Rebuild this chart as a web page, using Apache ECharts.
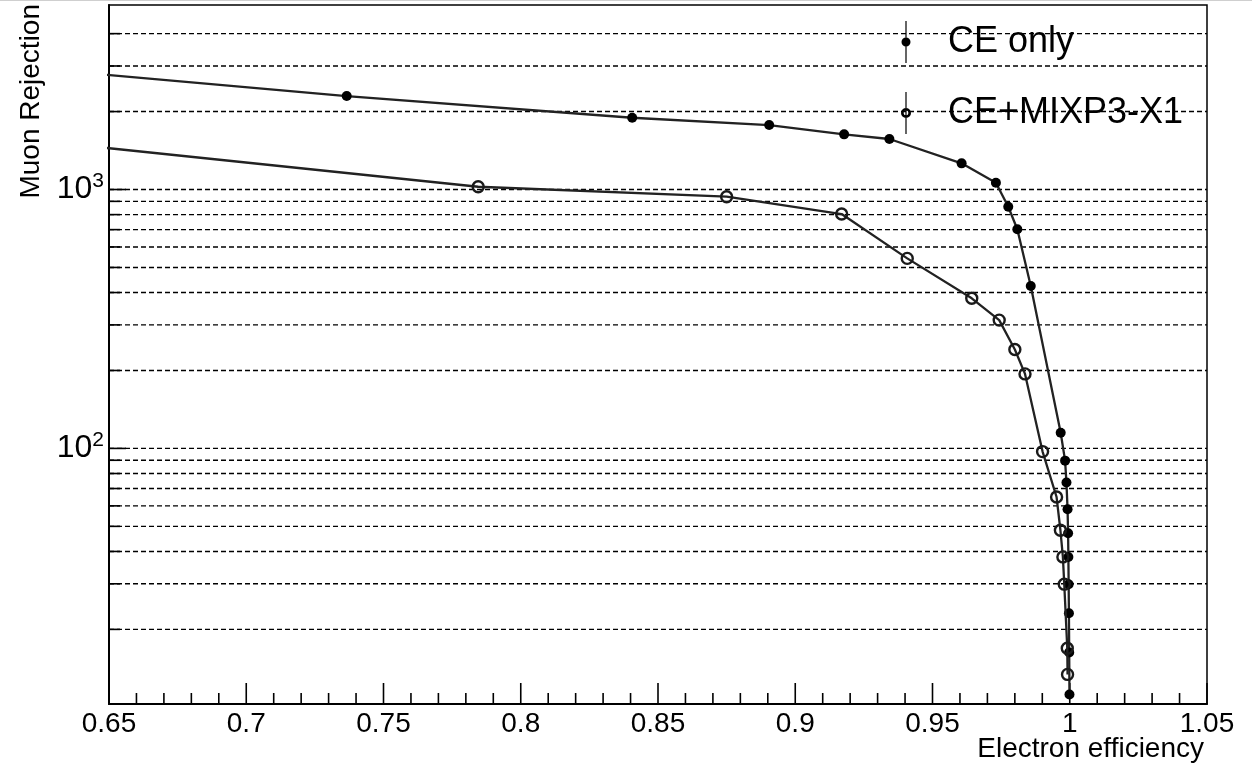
<!DOCTYPE html>
<html>
<head>
<meta charset="utf-8">
<script src="https://cdn.jsdelivr.net/npm/echarts@6/dist/echarts.min.js"></script>
<style>
  html, body { margin: 0; padding: 0; background: #fff; }
  #chart { width: 1252px; height: 765px; }
</style>
</head>
<body>
<div id="chart"></div>
<script>
// Muon rejection versus electron efficiency for two PID configurations.
const seriesNames = ['CE only', 'CE+MIXP3-X1'];

// CE only (filled markers)
const ceOnlyEff = [0.600, 0.7366, 0.8406, 0.8905, 0.9178, 0.9343, 0.9606, 0.9731, 0.9776, 0.9809,
                   0.9858, 0.9967, 0.9983, 0.9988, 0.9992, 0.9994, 0.9995, 0.9996, 0.9997, 0.9998, 0.9999];
const ceOnlyRej = [3080, 2296, 1893, 1774, 1633, 1567, 1262, 1062, 858, 702,
                   424, 115, 89.7, 73.8, 58.2, 47.0, 38.1, 29.9, 23.1, 16.3, 11.2];

// CE+MIXP3-X1 (open markers)
const mixEff = [0.600, 0.7845, 0.8750, 0.9169, 0.9408, 0.9643, 0.9743, 0.9800, 0.9837, 0.9901,
                0.9952, 0.9966, 0.9975, 0.9980, 0.9991, 0.9992];
const mixRej = [1640, 1025, 938, 804, 542, 380, 313, 241, 194, 97.2,
                64.9, 48.3, 38.1, 29.9, 16.9, 13.4];

// Axis ranges and tick layout
const X_MIN = 0.65, X_MAX = 1.05, X_STEP = 0.05;
const Y_MIN = 10.3, Y_MAX = 5160;
const Y_GRID_MAX = 4500;
const yDecades = [10, 100, 1000];
const yLabelDecades = [100, 1000];
const xMinorTicksPerMajor = 5;

const FONT = '"Liberation Sans", Arial, Helvetica, sans-serif';

function pairs(xs, ys) { return xs.map((x, i) => [x, ys[i]]); }
function isLabelDecade(v) { return yLabelDecades.some(d => Math.abs(v - d) < 1e-6 * d); }

// dashed horizontal grid at 1..9 x each decade
const yGridValues = [];
yDecades.forEach(d => {
  for (let m = 1; m <= 9; m++) {
    const v = d * m;
    if (v > Y_MIN && v < Y_GRID_MAX) yGridValues.push(v);
  }
});

// minor x ticks every 0.01, major every 0.05
const xTickValues = [];
const nTicks = Math.round((X_MAX - X_MIN) / X_STEP * xMinorTicksPerMajor);
for (let i = 0; i <= nTicks; i++) {
  xTickValues.push([+(X_MIN + i * X_STEP / xMinorTicksPerMajor).toFixed(4), i % xMinorTicksPerMajor === 0 ? 1 : 0]);
}

// legend icons: marker with a vertical error bar
const iconFilled = 'path://M4.4,0 L5.6,0 L5.6,42 L4.4,42 Z M0.5,21 A4.5,4.5 0 1,1 9.5,21 A4.5,4.5 0 1,1 0.5,21 Z';
const iconOpen = 'path://M4.4,0 L5.6,0 L5.6,16.2 L4.4,16.2 Z M4.4,25.8 L5.6,25.8 L5.6,42 L4.4,42 Z ' +
                 'M4.4,18.6 L5.6,18.6 L5.6,23.4 L4.4,23.4 Z ' +
                 'M0,21 A5,5 0 1,1 10,21 A5,5 0 1,1 0,21 Z M2.6,21 A2.4,2.4 0 1,0 7.4,21 A2.4,2.4 0 1,0 2.6,21 Z';

const chart = echarts.init(document.getElementById('chart'), null, { renderer: 'canvas' });

chart.setOption({
  animation: false,
  backgroundColor: '#fff',
  grid: {
    left: 109, top: 5, right: 45, bottom: 61,
    show: true, borderColor: '#000', borderWidth: 1.5, backgroundColor: 'transparent'
  },
  legend: {
    orient: 'vertical',
    left: 901, top: 21,
    padding: 0,
    itemWidth: 10, itemHeight: 42, itemGap: 29,
    selectedMode: false,
    textStyle: { fontFamily: FONT, fontSize: 36, color: '#000', padding: [0, 0, 0, 32], lineHeight: 42 },
    data: [
      { name: seriesNames[0], icon: iconFilled, itemStyle: { color: '#000', borderWidth: 0 } },
      { name: seriesNames[1], icon: iconOpen, itemStyle: { color: '#000', borderWidth: 0 } }
    ]
  },
  xAxis: {
    type: 'value',
    min: X_MIN, max: X_MAX, interval: X_STEP,
    axisLine: { show: true, onZero: false, lineStyle: { color: '#000', width: 2 } },
    axisTick: { show: false },
    splitLine: { show: false },
    axisLabel: { fontFamily: FONT, fontSize: 28, color: '#000', margin: 6, showMinLabel: true, showMaxLabel: true }
  },
  yAxis: {
    type: 'log', logBase: 10,
    min: Y_MIN, max: Y_MAX,
    axisLine: { show: true, onZero: false, lineStyle: { color: '#000', width: 2 } },
    axisTick: { show: false },
    splitLine: { show: false },
    axisLabel: {
      margin: 5,
      color: '#000',
      fontFamily: FONT,
      formatter: function (v) {
        if (!isLabelDecade(v)) return '';
        return '{b|10}{e|' + Math.round(Math.log10(v)) + '}';
      },
      rich: {
        b: { fontFamily: FONT, fontSize: 32, color: '#000', lineHeight: 38 },
        e: { fontFamily: FONT, fontSize: 21, color: '#000', lineHeight: 38, padding: [0, 0, 16, 0] }
      }
    }
  },
  graphic: [
    { type: 'rect', left: 0, top: 0, shape: { width: 1252, height: 1 }, style: { fill: '#cfcfcf' }, silent: true },
    {
      type: 'text', x: 31, y: 4, rotation: Math.PI / 2,
      style: { text: 'Muon Rejection', fontFamily: FONT, fontSize: 28, fill: '#000', align: 'right', verticalAlign: 'middle' },
      silent: true
    },
    {
      type: 'text', x: 1204, y: 749,
      style: { text: 'Electron efficiency', fontFamily: FONT, fontSize: 28, fill: '#000', align: 'right', verticalAlign: 'middle' },
      silent: true
    }
  ],
  series: [
    {
      // dashed horizontal grid with left-side ticks
      type: 'custom',
      silent: true,
      z: 1,
      data: yGridValues.map(v => [X_MIN, v]),
      encode: { x: 0, y: 1 },
      renderItem: function (params, api) {
        const v = api.value(1);
        const a = api.coord([X_MIN, v]);
        const b = api.coord([X_MAX, v]);
        const len = isLabelDecade(v) ? 17 : 11;
        return {
          type: 'group',
          children: [
            { type: 'line', shape: { x1: a[0], y1: a[1], x2: b[0], y2: b[1] },
              style: { stroke: '#000', lineWidth: 1.4, lineDash: [5, 3] } },
            { type: 'line', shape: { x1: a[0], y1: a[1], x2: a[0] + len, y2: a[1] },
              style: { stroke: '#000', lineWidth: 1.6 } }
          ]
        };
      }
    },
    {
      // bottom axis ticks pointing inward
      type: 'custom',
      silent: true,
      z: 1,
      data: xTickValues.map(t => [t[0], Y_MIN, t[1]]),
      encode: { x: 0, y: 1 },
      renderItem: function (params, api) {
        const p = api.coord([api.value(0), Y_MIN]);
        const len = api.value(2) ? 21 : 11;
        return { type: 'line', shape: { x1: p[0], y1: p[1], x2: p[0], y2: p[1] - len },
                 style: { stroke: '#000', lineWidth: 1.6 } };
      }
    },
    {
      name: seriesNames[0],
      type: 'line',
      data: pairs(ceOnlyEff, ceOnlyRej),
      symbol: 'circle', symbolSize: 10,
      showAllSymbol: true,
      clip: true,
      z: 3,
      lineStyle: { color: '#222', width: 2.3 },
      itemStyle: { color: '#000' },
      emphasis: { disabled: true }
    },
    {
      name: seriesNames[1],
      type: 'line',
      data: pairs(mixEff, mixRej),
      symbol: 'circle', symbolSize: 11,
      showAllSymbol: true,
      clip: true,
      z: 4,
      lineStyle: { color: '#222', width: 2.3 },
      itemStyle: { color: 'rgba(255,255,255,0)', borderColor: '#1a1a1a', borderWidth: 2.4 },
      emphasis: { disabled: true }
    }
  ]
});
</script>
</body>
</html>
